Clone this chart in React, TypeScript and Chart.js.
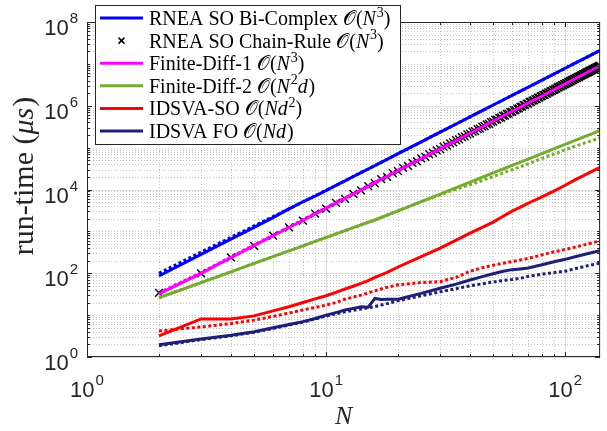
import React, { useEffect, useRef } from 'react';
import { Chart, registerables } from 'chart.js';

Chart.register(...registerables);

const W = 607;
const H = 431;

// ---------- data ----------
const N_LINE = [2, 3, 4, 5, 6, 7, 8, 9, 10, 11, 12, 13, 14, 15, 16, 17, 18, 20, 25, 30, 35, 40, 45, 50, 55, 60, 65, 70, 80, 90, 100, 110, 120, 130, 140];

const BI_COMPLEX = [86, 281, 651, 1250, 2130, 3450, 5100, 6950, 9450, 12500, 16100, 20400, 25300, 30900, 37300, 44500, 52500, 71600, 137000, 234000, 367000, 542000, 765000, 1.04e6, 1.37e6, 1.77e6, 2.23e6, 2.77e6, 4.10e6, 5.78e6, 7.86e6, 1.04e7, 1.34e7, 1.69e7, 2.10e7];
const BI_COMPLEX_DOT = [100, 320, 720, 1350, 2250, 3450, 5050, 7050, 9500, 12500, 16100, 20400, 25300, 30900, 37300, 44500, 52500, 71600, 137000, 234000, 367000, 542000, 765000, 1.04e6, 1.37e6, 1.77e6, 2.23e6, 2.77e6, 4.10e6, 5.78e6, 7.86e6, 1.04e7, 1.34e7, 1.69e7, 2.10e7];

const FD1 = [32, 99, 236, 455, 785, 1240, 1830, 2610, 3560, 4730, 6120, 7750, 9670, 11900, 14400, 17300, 20500, 28100, 54500, 93500, 148000, 220000, 312000, 428000, 568000, 732000, 926000, 1.15e6, 1.71e6, 2.43e6, 3.32e6, 4.42e6, 5.72e6, 7.25e6, 9.0e6];
const FD1_DOT = [34, 104, 246, 474, 815, 1290, 1900, 2710, 3700, 4920, 6360, 8060, 10050, 12400, 15000, 18000, 21300, 29200, 56700, 97200, 154000, 229000, 324000, 445000, 591000, 761000, 963000, 1.20e6, 1.78e6, 2.53e6, 3.45e6, 4.60e6, 5.95e6, 7.54e6, 9.36e6];

const FD2 = [26, 60, 108, 172, 250, 343, 452, 577, 712, 871, 1042, 1230, 1433, 1651, 1870, 2145, 2444, 3100, 5150, 7800, 11050, 15000, 19600, 24900, 30900, 37600, 45100, 53300, 72200, 94300, 120000, 148800, 181000, 217000, 260000];
const FD2_DOT = [26, 60, 108, 172, 250, 343, 452, 577, 712, 871, 1042, 1230, 1433, 1651, 1870, 2145, 2444, 3100, 5100, 7500, 10200, 13000, 16400, 20300, 24800, 29800, 35000, 41000, 55000, 71000, 89000, 108000, 128000, 148000, 170000];

const IDSVA_SO = [3.2, 8.1, 8.1, 9.6, 12.6, 15.9, 20, 24.5, 29, 35, 42, 49, 57, 67, 80, 92, 105, 141, 250, 400, 620, 910, 1250, 1660, 2300, 3050, 3800, 4700, 6700, 9300, 12600, 17000, 21700, 27500, 34000];
const IDSVA_SO_DOT = [4.2, 5.2, 6.3, 7.6, 9.3, 11.2, 13.3, 15.2, 17.4, 20, 24, 27, 30, 34, 38, 42, 46, 53, 60, 63, 80, 112, 135, 155, 173, 190, 208, 226, 275, 325, 370, 420, 475, 535, 595];

const IDSVA_FO = [1.95, 2.7, 3.3, 4.0, 5.0, 6.0, 7.0, 8.3, 10, 11.5, 13.2, 14.5, 15.8, 15.4, 25, 23.5, 24, 24, 33, 44, 55, 69, 83, 97, 112, 122, 127, 133, 160, 188, 215, 248, 280, 312, 345];
const IDSVA_FO_DOT = [1.85, 2.6, 3.2, 3.9, 4.8, 5.8, 6.8, 8.1, 9.5, 10.8, 12, 13, 14, 15, 16, 17.5, 18.8, 22, 29, 36, 43, 50, 56, 62, 67, 71, 76, 84, 95, 104, 112, 128, 145, 160, 174];

const N_CROSS = [
  2, 3, 4, 5, 6, 7, 8, 9, 10,
  11, 12, 13, 14, 15, 16, 17, 18, 19, 20,
  21, 22, 23, 24, 25, 26, 27, 28, 29, 30,
  31, 32, 33, 34, 35, 36, 37, 38, 39, 40,
  41, 42, 43, 44, 45, 46, 47, 48, 49, 50,
  51, 52, 53, 54, 55, 56, 57, 58, 59, 60,
  61, 62, 63, 64, 65, 66, 67, 68, 69, 70,
  71, 72, 73, 74, 75, 76, 77, 78, 79, 80,
  81, 82, 83, 84, 85, 86, 87, 88, 89, 90,
  91, 92, 93, 94, 95, 96, 97, 98, 99, 100,
  101, 102, 103, 104, 105, 106, 107, 108, 109, 110,
  111, 112, 113, 114, 115, 116, 117, 118, 119, 120,
  121, 122, 123, 124, 125, 126, 127, 128, 129, 130,
  131, 132, 133, 134, 135, 136, 137, 138, 139, 140,
];
const CHAIN_RULE = [
  34, 99, 240, 450, 790, 1250, 1800, 2650, 3500,
  4800, 6000, 7900, 9500, 12100, 14100, 17600, 20000, 24500, 27400,
  33000, 36500, 43200, 47200, 55300, 59800, 69500, 74600, 86000, 91800,
  1.05e5, 1.11e5, 1.27e5, 1.33e5, 1.50e5, 1.57e5, 1.78e5, 1.85e5, 2.07e5, 2.15e5,
  2.40e5, 2.49e5, 2.77e5, 2.85e5, 3.16e5, 3.26e5, 3.60e5, 3.70e5, 4.08e5, 4.17e5,
  4.59e5, 4.69e5, 5.14e5, 5.24e5, 5.74e5, 5.85e5, 6.38e5, 6.49e5, 7.07e5, 7.18e5,
  7.80e5, 7.91e5, 8.59e5, 8.69e5, 9.42e5, 9.52e5, 1.03e6, 1.04e6, 1.13e6, 1.13e6,
  1.23e6, 1.23e6, 1.33e6, 1.34e6, 1.44e6, 1.45e6, 1.56e6, 1.56e6, 1.68e6, 1.69e6,
  1.81e6, 1.82e6, 1.95e6, 1.95e6, 2.09e6, 2.09e6, 2.24e6, 2.24e6, 2.40e6, 2.40e6,
  2.56e6, 2.56e6, 2.73e6, 2.73e6, 2.91e6, 2.90e6, 3.09e6, 3.08e6, 3.28e6, 3.28e6,
  3.49e6, 3.48e6, 3.69e6, 3.69e6, 3.91e6, 3.90e6, 4.13e6, 4.12e6, 4.37e6, 4.36e6,
  4.61e6, 4.59e6, 4.87e6, 4.84e6, 5.12e6, 5.10e6, 5.39e6, 5.37e6, 5.67e6, 5.64e6,
  5.96e6, 5.92e6, 6.25e6, 6.22e6, 6.56e6, 6.52e6, 6.87e6, 6.83e6, 7.20e6, 7.15e6,
  7.54e6, 7.48e6, 7.88e6, 7.82e6, 8.24e6, 8.18e6, 8.61e6, 8.54e6, 8.99e6, 8.91e6,
];

const X_MIN = 1;
const X_MAX = 140;
const Y_MIN = 1;
const Y_MAX = 1e8;
const X_TICK_EXP = [0, 1, 2];
const Y_TICK_EXP = [0, 2, 4, 6, 8];
const X_TITLE = 'N';
const Y_TITLE: [string, string][] = [['run-time (', 'r'], ['\u03bcs', 'i'], [')', 'r']];

type Seg = [string, string];
const LEGEND_LABELS: Seg[][] = [
  [['RNEA SO Bi-Complex ', 'r'], ['\u{1D4AA}', 'c'], ['(', 'r'], ['N', 'i'], ['3', 's'], [')', 'r']],
  [['RNEA SO Chain-Rule ', 'r'], ['\u{1D4AA}', 'c'], ['(', 'r'], ['N', 'i'], ['3', 's'], [')', 'r']],
  [['Finite-Diff-1 ', 'r'], ['\u{1D4AA}', 'c'], ['(', 'r'], ['N', 'i'], ['3', 's'], [')', 'r']],
  [['Finite-Diff-2 ', 'r'], ['\u{1D4AA}', 'c'], ['(', 'r'], ['N', 'i'], ['2', 's'], ['d', 'i'], [')', 'r']],
  [['IDSVA-SO ', 'r'], ['\u{1D4AA}', 'c'], ['(', 'r'], ['Nd', 'i'], ['2', 's'], [')', 'r']],
  [['IDSVA FO ', 'r'], ['\u{1D4AA}', 'c'], ['(', 'r'], ['Nd', 'i'], [')', 'r']],
];

const C_BLUE = '#0000ff';
const C_MAGENTA = '#ff00ff';
const C_GREEN = '#77ac30';
const C_RED = '#ff0000';
const C_NAVY = '#1f1f78';

// ---------- helpers ----------
const pts = (xs: number[], ys: number[]) => xs.map((x, i) => ({ x, y: ys[i] }));

const solid = (label: string, ys: number[], color: string) => ({
  label,
  data: pts(N_LINE, ys),
  borderColor: color,
  backgroundColor: color,
  borderWidth: 3,
  pointRadius: 0,
  fill: false,
  order: 1,
});
const dotted = (label: string, ys: number[], color: string) => ({
  label,
  data: pts(N_LINE, ys),
  borderColor: color,
  backgroundColor: color,
  borderWidth: 3,
  borderDash: [3, 2.5],
  pointRadius: 0,
  fill: false,
  order: 3,
});

const SERIF = "'Liberation Serif', 'DejaVu Serif', serif";
const SANS = "'Liberation Sans', Arial, sans-serif";

function fontFor(kind: string, size: number) {
  if (kind === 'i') return `italic ${size}px ${SERIF}`;
  if (kind === 's') return `${Math.round(size * 0.7)}px ${SERIF}`;
  if (kind === 'c') return `${size}px 'DejaVu Serif', 'DejaVu Sans', ${SERIF}`;
  return `${size}px ${SERIF}`;
}

function drawSegs(ctx: CanvasRenderingContext2D, segs: Seg[], x: number, y: number, size: number) {
  let cx = x;
  for (const [t, k] of segs) {
    ctx.font = fontFor(k, size);
    const dy = k === 's' ? -size * 0.42 : 0;
    ctx.fillText(t, cx, y + dy);
    cx += ctx.measureText(t).width + (k === 'i' ? size * 0.04 : 0);
  }
  return cx - x;
}

function segsWidth(ctx: CanvasRenderingContext2D, segs: Seg[], size: number) {
  let w = 0;
  for (const [t, k] of segs) {
    ctx.font = fontFor(k, size);
    w += ctx.measureText(t).width + (k === 'i' ? size * 0.04 : 0);
  }
  return w;
}

function drawPow(ctx: CanvasRenderingContext2D, exp: number, x: number, yBase: number, align: 'center' | 'right') {
  const main = '10';
  const sup = String(exp);
  ctx.font = `22px ${SANS}`;
  const w1 = ctx.measureText(main).width;
  ctx.font = `15px ${SANS}`;
  const w2 = ctx.measureText(sup).width;
  const w = w1 + w2 + 1;
  const sx = align === 'center' ? x - w / 2 : x - w;
  ctx.textAlign = 'left';
  ctx.textBaseline = 'alphabetic';
  ctx.font = `22px ${SANS}`;
  ctx.fillText(main, sx, yBase);
  ctx.font = `15px ${SANS}`;
  ctx.fillText(sup, sx + w1 + 1, yBase - 12);
}

const isDecade = (v: number) => Math.abs(Math.log10(v) - Math.round(Math.log10(v))) < 1e-9;
const isGridVal = (v: number) => {
  const e = Math.floor(Math.log10(v) + 1e-9);
  const m = v / Math.pow(10, e);
  return Math.abs(m - Math.round(m)) < 1e-6;
};
const xMajor = (v: number) => isDecade(v);
const yMajor = (v: number) => isDecade(v) && Math.round(Math.log10(v)) % 2 === 0;

const gridPlugin = {
  id: 'matlabGrid',
  beforeDatasetsDraw(chart: any) {
    const { ctx, chartArea } = chart;
    const { left, right, top, bottom } = chartArea;
    const xs = chart.scales.x;
    const ys = chart.scales.y;
    ctx.save();
    ctx.lineWidth = 1;
    // minor
    ctx.setLineDash([1, 2]);
    ctx.strokeStyle = '#c4c4c4';
    ctx.beginPath();
    for (const t of xs.ticks) {
      if (!isGridVal(t.value) || xMajor(t.value)) continue;
      const p = Math.round(xs.getPixelForValue(t.value)) + 0.5;
      ctx.moveTo(p, top);
      ctx.lineTo(p, bottom);
    }
    for (const t of ys.ticks) {
      if (!isGridVal(t.value) || yMajor(t.value)) continue;
      const p = Math.round(ys.getPixelForValue(t.value)) + 0.5;
      ctx.moveTo(left, p);
      ctx.lineTo(right, p);
    }
    ctx.stroke();
    // major
    ctx.setLineDash([]);
    ctx.strokeStyle = '#dcdcdc';
    ctx.beginPath();
    for (const t of xs.ticks) {
      if (!xMajor(t.value)) continue;
      const p = Math.round(xs.getPixelForValue(t.value)) + 0.5;
      ctx.moveTo(p, top);
      ctx.lineTo(p, bottom);
    }
    for (const t of ys.ticks) {
      if (!yMajor(t.value)) continue;
      const p = Math.round(ys.getPixelForValue(t.value)) + 0.5;
      ctx.moveTo(left, p);
      ctx.lineTo(right, p);
    }
    ctx.stroke();
    ctx.restore();
  },
};

const overlayPlugin = {
  id: 'matlabOverlay',
  afterDraw(chart: any) {
    const { ctx, chartArea } = chart;
    const { left, right, top, bottom } = chartArea;
    const xs = chart.scales.x;
    const ys = chart.scales.y;
    ctx.save();
    // axes box
    ctx.strokeStyle = '#262626';
    ctx.lineWidth = 1;
    ctx.setLineDash([]);
    ctx.strokeRect(left + 0.5, top + 0.5, right - left - 1, bottom - top - 1);
    // inward ticks on all sides
    ctx.beginPath();
    for (const t of xs.ticks) {
      if (!isGridVal(t.value)) continue;
      const p = Math.round(xs.getPixelForValue(t.value)) + 0.5;
      const len = xMajor(t.value) ? 5 : 3;
      ctx.moveTo(p, bottom);
      ctx.lineTo(p, bottom - len);
      ctx.moveTo(p, top);
      ctx.lineTo(p, top + len);
    }
    for (const t of ys.ticks) {
      if (!isGridVal(t.value)) continue;
      const p = Math.round(ys.getPixelForValue(t.value)) + 0.5;
      const len = yMajor(t.value) ? 5 : 3;
      ctx.moveTo(left, p);
      ctx.lineTo(left + len, p);
      ctx.moveTo(right, p);
      ctx.lineTo(right - len, p);
    }
    ctx.stroke();

    // tick labels
    ctx.fillStyle = '#262626';
    for (const e of X_TICK_EXP) {
      const p = xs.getPixelForValue(Math.pow(10, e));
      drawPow(ctx, e, p, bottom + 40, 'center');
    }
    for (const e of Y_TICK_EXP) {
      const p = ys.getPixelForValue(Math.pow(10, e));
      drawPow(ctx, e, left - 9, p + 13, 'right');
    }

    // axis titles
    ctx.fillStyle = '#262626';
    ctx.font = `italic 26px ${SERIF}`;
    ctx.textAlign = 'center';
    ctx.fillText(X_TITLE, (left + right) / 2, 424);

    ctx.save();
    ctx.translate(33, 176);
    ctx.rotate(-Math.PI / 2);
    ctx.textAlign = 'left';
    const yw = segsWidth(ctx, Y_TITLE as Seg[], 30);
    drawSegs(ctx, Y_TITLE as Seg[], -yw / 2, 0, 30);
    ctx.restore();

    // legend
    const lx0 = 95, ly0 = 5, lx1 = 401, ly1 = 145;
    ctx.fillStyle = '#ffffff';
    ctx.fillRect(lx0, ly0, lx1 - lx0, ly1 - ly0);
    ctx.strokeStyle = '#262626';
    ctx.lineWidth = 1;
    ctx.strokeRect(lx0 + 0.5, ly0 + 0.5, lx1 - lx0 - 1, ly1 - ly0 - 1);
    const rowH = 22.6;
    LEGEND_LABELS.forEach((segs, i) => {
      const ds = chart.data.datasets[i];
      const cy = 18 + i * rowH;
      if (ds.showLine === false) {
        ctx.strokeStyle = '#000';
        ctx.lineWidth = 1.5;
        ctx.beginPath();
        const cx = 121.5, r = 3;
        ctx.moveTo(cx - r, cy - r);
        ctx.lineTo(cx + r, cy + r);
        ctx.moveTo(cx - r, cy + r);
        ctx.lineTo(cx + r, cy - r);
        ctx.stroke();
      } else {
        ctx.strokeStyle = ds.borderColor;
        ctx.lineWidth = 3;
        ctx.beginPath();
        ctx.moveTo(100, cy);
        ctx.lineTo(143, cy);
        ctx.stroke();
      }
      ctx.fillStyle = '#000';
      ctx.textAlign = 'left';
      ctx.textBaseline = 'alphabetic';
      drawSegs(ctx, segs, 149, cy + 7, 20);
    });
    ctx.restore();
  },
};

export default function App() {
  const ref = useRef<HTMLCanvasElement>(null);
  useEffect(() => {
    if (!ref.current) return;
    const chart = new Chart(ref.current, {
      type: 'line',
      data: {
        datasets: [
          solid('RNEA SO Bi-Complex', BI_COMPLEX, C_BLUE),
          {
            label: 'RNEA SO Chain-Rule',
            data: pts(N_CROSS, CHAIN_RULE),
            showLine: false,
            pointStyle: 'crossRot',
            pointRadius: 5.5,
            borderColor: '#000000',
            backgroundColor: '#000000',
            borderWidth: 1.4,
            order: 2,
          },
          solid('Finite-Diff-1', FD1, C_MAGENTA),
          solid('Finite-Diff-2', FD2, C_GREEN),
          solid('IDSVA-SO', IDSVA_SO, C_RED),
          solid('IDSVA FO', IDSVA_FO, C_NAVY),
          dotted('RNEA SO Bi-Complex (alt)', BI_COMPLEX_DOT, C_BLUE),
          dotted('Finite-Diff-1 (alt)', FD1_DOT, C_MAGENTA),
          dotted('Finite-Diff-2 (alt)', FD2_DOT, C_GREEN),
          dotted('IDSVA-SO (alt)', IDSVA_SO_DOT, C_RED),
          dotted('IDSVA FO (alt)', IDSVA_FO_DOT, C_NAVY),
        ] as any,
      },
      options: {
        animation: false,
        responsive: false,
        devicePixelRatio: 1,
        layout: { padding: { left: 87, top: 22, right: 2, bottom: 74 } },
        plugins: { legend: { display: false }, tooltip: { enabled: false } },
        elements: { line: { tension: 0 } },
        scales: {
          x: {
            type: 'logarithmic',
            min: X_MIN,
            max: X_MAX,
            ticks: { display: false, autoSkip: false },
            grid: { display: false, drawTicks: false },
            border: { display: false },
          },
          y: {
            type: 'logarithmic',
            min: Y_MIN,
            max: Y_MAX,
            ticks: { display: false, autoSkip: false },
            grid: { display: false, drawTicks: false },
            border: { display: false },
          },
        },
      } as any,
      plugins: [gridPlugin, overlayPlugin],
    });
    return () => chart.destroy();
  }, []);
  return (
    <div style={{ position: 'fixed', left: 0, top: 0, width: W, height: H, background: '#ffffff' }}>
      <canvas ref={ref} width={W} height={H} style={{ display: 'block', width: W, height: H }} />
    </div>
  );
}
